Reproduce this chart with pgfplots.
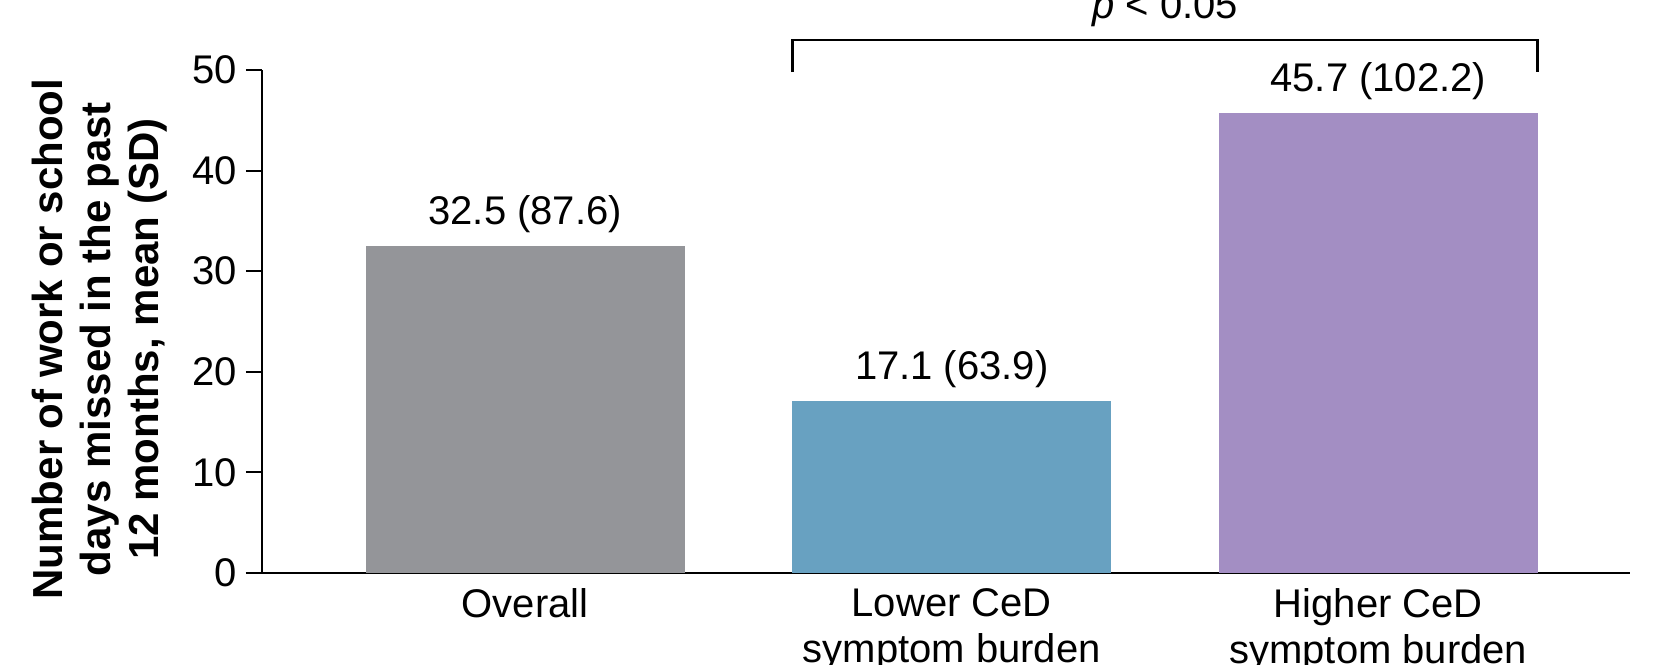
\documentclass[border=0pt]{standalone}
\usepackage{fontspec}
\setmainfont{Liberation Sans}
\usepackage{pgfplots}
\pgfplotsset{compat=1.18}
\definecolor{cgray}{RGB}{148,149,153}
\definecolor{cblue}{RGB}{104,161,193}
\definecolor{cpurple}{RGB}{163,142,195}
\begin{document}
\fontsize{12}{14}\selectfont
\begin{tikzpicture}
\begin{axis}[
  at={(0,0)}, anchor=south west,
  scale only axis, width=410.4pt, height=150.9pt,
  xmin=-0.617, xmax=2.59, ymin=0, ymax=50,
  enlargelimits=false,
  axis lines=left, axis line style={-, line width=0.7pt},
  xtick={0,1,2},
  xticklabels={Overall, Lower CeD\\symptom burden, Higher CeD\\symptom burden},
  xticklabel style={align=center, font=\fontsize{12}{13.7}\selectfont, yshift=4.3pt},
  xtick style={draw=none},
  ytick={0,10,20,30,40,50},
  tick align=outside,
  ytick style={line width=0.6pt, black},
  yticklabel style={xshift=1.5pt},
  major tick length=4.8pt,
  /pgf/number format/assume math mode=true,
  ylabel={Number of work or school\\days missed in the past\\12 months, mean (SD)},
  ylabel style={at={(axis description cs:-0.1184,0.465)}, anchor=center, align=center, font=\bfseries\fontsize{12.6}{14.4}\selectfont},
  clip=false,
  nodes near coords, point meta=explicit symbolic,
  nodes near coords style={inner sep=0pt, yshift=3.8pt, anchor=south},
]
\addplot[ybar, bar width=0.747, bar shift=0, fill=cgray, draw=none] coordinates {(0,32.5) [{32.5 (87.6)}]};
\addplot[ybar, bar width=0.747, bar shift=0, fill=cblue, draw=none] coordinates {(1,17.1) [{17.1 (63.9)}]};
\addplot[ybar, bar width=0.747, bar shift=0, fill=cpurple, draw=none] coordinates {(2,45.7) [{45.7 (102.2)}]};
\draw[line width=0.7pt] (axis cs:-0.655,0) -- (axis cs:-0.617,0);
\draw[line width=0.7pt] (axis cs:0.6265,49.8) -- (axis cs:0.6265,53.0) -- (axis cs:2.3735,53.0) -- (axis cs:2.3735,49.8);
\node[anchor=base] at (axis cs:1.5,55.1) {\textit{p} < 0.05};
\end{axis}
\pgfresetboundingbox
\useasboundingbox (-78.6pt,-27.3pt) rectangle (420.9pt,171.9pt);
\end{tikzpicture}
\end{document}
